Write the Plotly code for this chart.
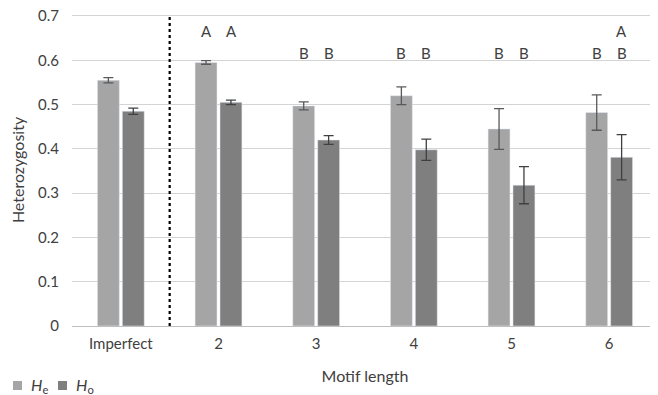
import plotly.graph_objects as go

categories = ["Imperfect", "2", "3", "4", "5", "6"]
he_values = [0.555, 0.595, 0.497, 0.520, 0.445, 0.482]
he_errors = [0.006, 0.004, 0.009, 0.020, 0.046, 0.040]
ho_values = [0.485, 0.505, 0.420, 0.398, 0.318, 0.381]
ho_errors = [0.007, 0.005, 0.010, 0.024, 0.042, 0.051]
he_sig = ["", "A", "B", "B", "B", "B"]
ho_sig = ["", "A", "B", "B", "B", "AB"]
y_ticks = [0, 0.1, 0.2, 0.3, 0.4, 0.5, 0.6, 0.7]
y_tick_labels = ["0", "0.1", "0.2", "0.3", "0.4", "0.5", "0.6", "0.7"]
series_names = ["<i>H</i><sub>e</sub>", "<i>H</i><sub>o</sub>"]
series_colors = ["#a5a5a5", "#7f7f7f"]

FONT = "Lato"
TXT = "#404040"

W, H = 650, 387
ML, MR, MT, MB = 64, 0, 6, 69
PW, PH = W - ML - MR, H - MT - MB


def px_to_paper(fx, fy):
    return (fx - ML) / PW, (H - MB - fy) / PH


fig = go.Figure()
fig.add_trace(go.Bar(
    x=categories, y=he_values, name=series_names[0],
    marker=dict(color=series_colors[0]),
    error_y=dict(type="data", array=he_errors, color="#595959", thickness=1.3, width=5),
))
fig.add_trace(go.Bar(
    x=categories, y=ho_values, name=series_names[1],
    marker=dict(color=series_colors[1]),
    error_y=dict(type="data", array=ho_errors, color="#404040", thickness=1.3, width=5),
))

row_y = {"A": 0.665, "B": 0.617}
for sigs, shift in ((he_sig, -12.5), (ho_sig, 12.5)):
    for i, s in enumerate(sigs):
        for letter in s:
            fig.add_annotation(x=i, y=row_y[letter], xref="x", yref="y", text=letter,
                               showarrow=False, xshift=shift,
                               font=dict(family=FONT, size=15, color=TXT))

# dotted separator between Imperfect and perfect motifs
fig.add_shape(type="line", xref="x", yref="y", x0=0.5, x1=0.5, y0=0, y1=0.7,
              line=dict(color="#000000", width=2.2, dash="dot"))

# legend drawn in the bottom-left corner (square swatch + label)
for k, (name, col) in enumerate(zip(series_names, series_colors)):
    sx = 5 + 45 * k
    x0, y0 = px_to_paper(sx, 382)
    x1, y1 = px_to_paper(sx + 9, 373)
    fig.add_shape(type="rect", xref="paper", yref="paper", x0=x0, x1=x1, y0=y0, y1=y1,
                  line=dict(width=0), fillcolor=col)
    tx, ty = px_to_paper(sx + 16, 377)
    fig.add_annotation(x=tx, y=ty, xref="paper", yref="paper", text=name,
                       showarrow=False, xanchor="left", yanchor="middle",
                       font=dict(family=FONT, size=16, color=TXT))

fig.update_layout(
    width=W, height=H,
    margin=dict(l=ML, r=MR, t=MT, b=MB, autoexpand=False),
    paper_bgcolor="white", plot_bgcolor="white",
    barmode="group", bargap=0.49, bargroupgap=0.12,
    font=dict(family=FONT, size=15, color=TXT),
    showlegend=False,
    xaxis=dict(title=dict(text="Motif length", font=dict(size=16), standoff=19),
               showgrid=False, showline=False, ticks="", tickfont=dict(size=15),
               ticklabelstandoff=7, automargin=False),
    yaxis=dict(title=dict(text="Heterozygosity", font=dict(size=16), standoff=12),
               range=[0, 0.7045], tickvals=y_ticks, ticktext=y_tick_labels,
               showgrid=True, gridcolor="#d4d4d4", gridwidth=1,
               zeroline=True, zerolinecolor="#bfbfbf", zerolinewidth=1,
               showline=False, ticks="", tickfont=dict(size=15),
               ticklabelstandoff=12, ticklabeloverflow="allow", automargin=False),
)

fig.write_html("out.html")
